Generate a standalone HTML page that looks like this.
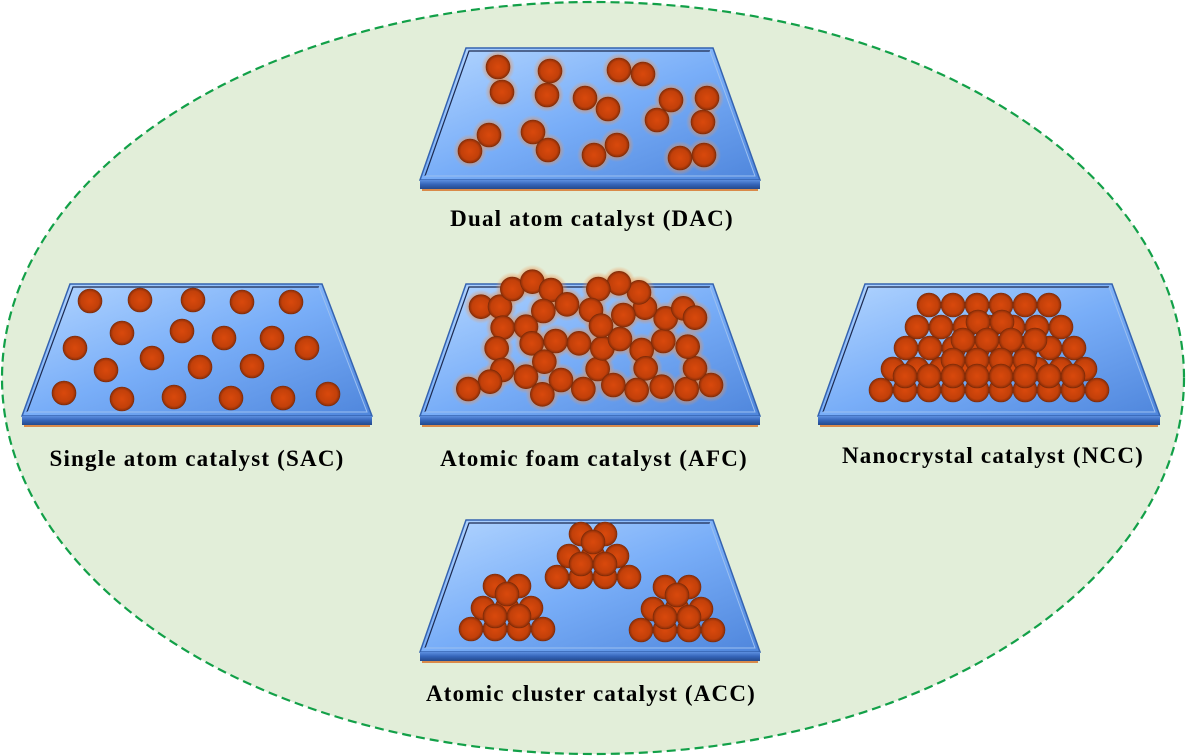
<!DOCTYPE html>
<html><head><meta charset="utf-8"><style>html,body{margin:0;padding:0;background:#fff}svg{display:block}</style></head>
<body>
<svg id="s" width="1186" height="756" viewBox="0 0 1186 756" xmlns="http://www.w3.org/2000/svg">
<defs>
<linearGradient id="top" x1="0" y1="0" x2="1" y2="1">
<stop offset="0" stop-color="#b4d6ff"/><stop offset="0.5" stop-color="#79aef8"/><stop offset="1" stop-color="#4f86dc"/></linearGradient>
<linearGradient id="base" x1="0" y1="0" x2="0" y2="1">
<stop offset="0" stop-color="#5d8fe0"/><stop offset="0.5" stop-color="#3464b8"/><stop offset="1" stop-color="#24498c"/></linearGradient>
<radialGradient id="atom" cx="0.5" cy="0.5" r="0.5">
<stop offset="0" stop-color="#d9490c"/><stop offset="0.75" stop-color="#c2400a"/><stop offset="1" stop-color="#8a2e08"/></radialGradient>
<radialGradient id="glow" cx="0.5" cy="0.5" r="0.5">
<stop offset="0.6" stop-color="#e8803a" stop-opacity="0.7"/><stop offset="1" stop-color="#f0a060" stop-opacity="0"/></radialGradient>
</defs>
<rect width="1186" height="756" fill="#ffffff"/>
<ellipse cx="593" cy="378" rx="591" ry="376" fill="#e2eed9" stroke="#12a048" stroke-width="2.2" stroke-dasharray="9,5"/>
<g id="g"></g>
<g font-family="'Liberation Serif',serif" font-weight="bold" font-size="23" letter-spacing="1.2" fill="#000" text-anchor="middle">
<text x="592" y="226">Dual atom catalyst (DAC)</text>
<text x="197" y="466">Single atom catalyst (SAC)</text>
<text x="594" y="466">Atomic foam catalyst (AFC)</text>
<text x="993" y="463">Nanocrystal catalyst (NCC)</text>
<text x="591" y="701">Atomic cluster catalyst (ACC)</text>
</g>
</svg>
<script>
var g=document.getElementById('g'),h='';
function plat(xt0,xt1,yt,xb0,xb1,yb){
 h+='<polygon points="'+xt0+','+yt+' '+xt1+','+yt+' '+xb1+','+yb+' '+xb0+','+yb+'" fill="url(#top)" stroke="#3563b0" stroke-width="1.5"/>';
 h+='<polyline points="'+(xb0+5)+','+(yb-4)+' '+(xt0+3)+','+(yt+3)+' '+(xt1-3)+','+(yt+3)+'" fill="none" stroke="#1c2a50" stroke-width="1.2"/>';
 h+='<polyline points="'+(xt1-3)+','+(yt+3)+' '+(xb1-5)+','+(yb-4)+' '+(xb0+5)+','+(yb-4)+'" fill="none" stroke="#9cc0f0" stroke-width="1"/>';
 h+='<rect x="'+xb0+'" y="'+yb+'" width="'+(xb1-xb0)+'" height="9" fill="url(#base)"/>';
 h+='<rect x="'+(xb0+2)+'" y="'+(yb+9)+'" width="'+(xb1-xb0-4)+'" height="2" fill="#d98a4a"/>';
}
function atoms(list,glow,r){r=r||12;
 if(glow)list.forEach(function(p){h+='<circle cx="'+p[0]+'" cy="'+p[1]+'" r="'+(r+5)+'" fill="url(#glow)"/>';});
 list.forEach(function(p){h+='<circle cx="'+p[0]+'" cy="'+p[1]+'" r="'+r+'" fill="url(#atom)" stroke="#7a2a08" stroke-width="0.6"/>';});
}
plat(466,713,48,420,760,180);
plat(70,322,284,22,372,416);
plat(466,713,284,420,760,416);
plat(865,1112,284,818,1160,416);
plat(466,713,520,420,760,652);
atoms([[498,67],[502,92],[550,71],[547,95],[619,70],[643,74],[585,98],[608,109],[671,100],[707,98],[657,120],[703,122],[489,135],[470,151],[533,132],[548,150],[617,145],[594,155],[680,158],[704,155]],true);
atoms([[90,301],[140,300],[193,300],[242,302],[291,302],[122,333],[182,331],[224,338],[272,338],[75,348],[152,358],[106,370],[200,367],[252,366],[307,348],[64,393],[122,399],[174,397],[231,398],[283,398],[328,394]]);
var af=[[198,125],[255,125],[292,72],[352,50],[408,75],[456,118],[385,138],[263,188],[333,185],[245,250],[350,235],[422,228],[492,235],[262,315],[388,290],[333,335],[438,345],[382,388],[225,350],[160,372],[505,372],[548,312],[562,250],[615,222],[680,255],[692,310],[595,360],[665,375],[740,365],[815,372],[888,360],[840,310],[818,245],[745,228],[752,160],[805,130],[840,158],[690,128],[672,82],[612,55],[550,72],[528,135],[558,182],[625,150]].map(function(p){return[p[0]/3+415,p[1]/3+265];});
atoms(af,true);
var nc=[];
function row(x0,n,y){for(var i=0;i<n;i++)nc.push([x0+24*i,y]);}
row(929,6,305);row(917,7,327);row(978,2,322);row(906,8,348);row(963,4,340);row(893,9,369);row(953,4,360);row(881,10,390);row(905,8,376);
atoms(nc);
function cl(cx,by){atoms([[cx-36,by],[cx-12,by],[cx+12,by],[cx+36,by],[cx-24,by-21],[cx,by-21],[cx+24,by-21],[cx-12,by-43],[cx+12,by-43],[cx-12,by-13],[cx+12,by-13],[cx,by-35]]);}
cl(507,629);cl(593,577);cl(677,630);
g.innerHTML=h;
</script>
</body></html>
